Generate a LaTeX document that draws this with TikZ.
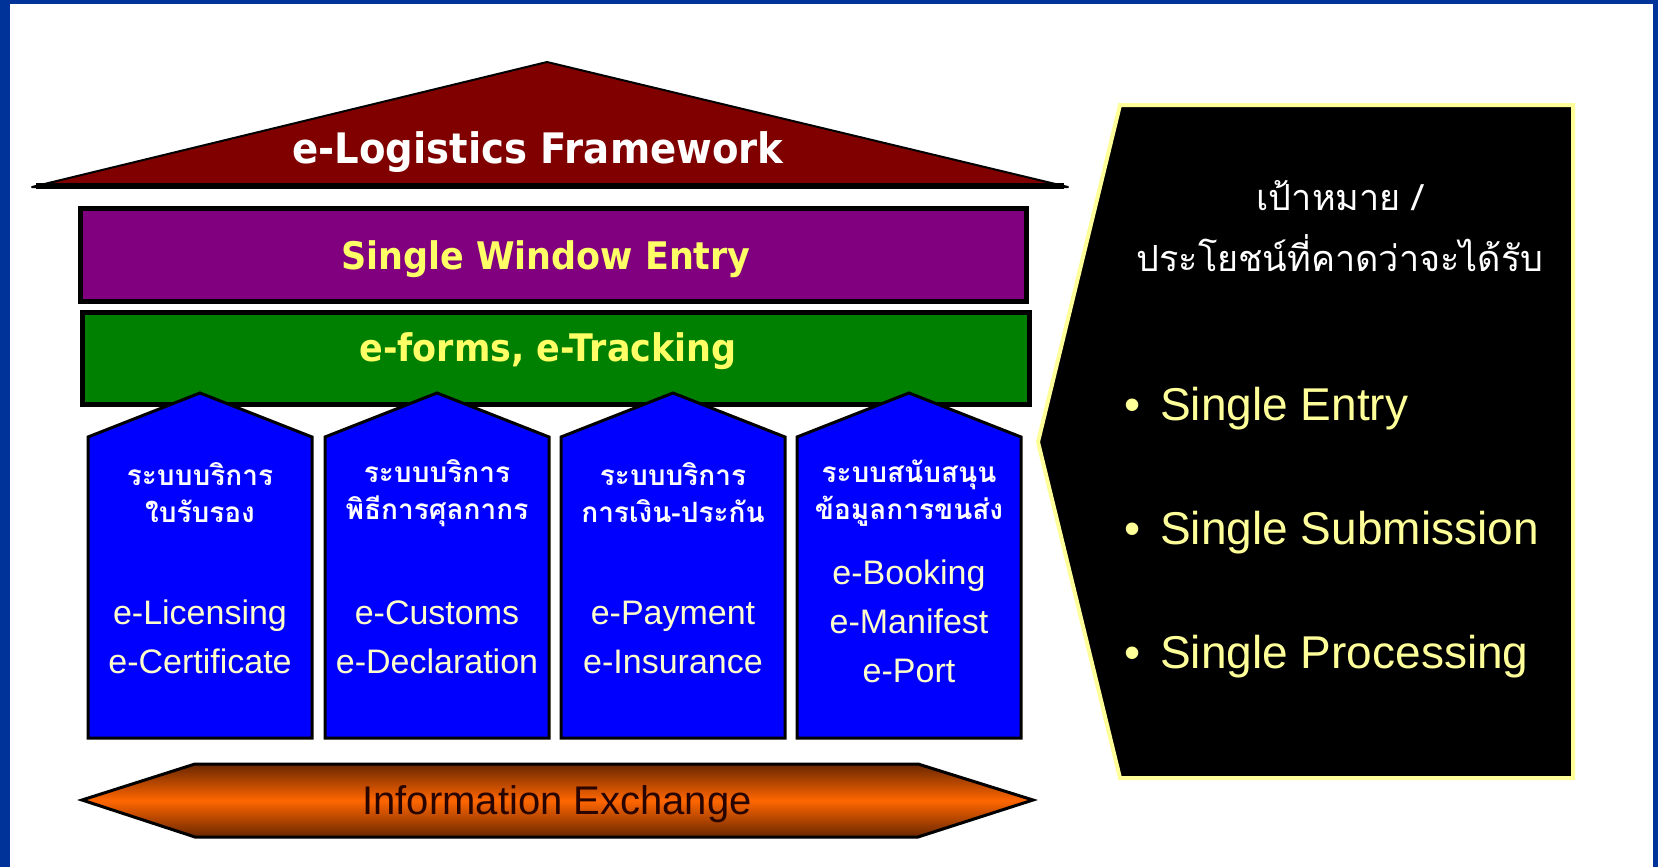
\documentclass[tikz,border=0pt]{standalone}
\usepackage{fontspec}
\setmainfont{Liberation Sans}
\newfontfamily\headfont{DejaVu Sans}
\newfontfamily\thaifont[Script=Thai]{Loma}

\definecolor{frameblue}{RGB}{0,51,153}
\definecolor{roofred}{RGB}{128,0,0}
\definecolor{swpurple}{RGB}{128,0,128}
\definecolor{trackgreen}{RGB}{0,128,0}
\definecolor{pillarblue}{RGB}{0,0,255}
\definecolor{xorange}{RGB}{255,102,0}
\definecolor{xdark}{RGB}{105,38,0}
\definecolor{exbrown}{RGB}{40,5,0}
\definecolor{swyellow}{RGB}{255,255,102}
\definecolor{paleyellow}{RGB}{255,255,204}
\definecolor{goalyellow}{RGB}{255,255,153}

\newcommand{\narrowtext}[1]{\scalebox{0.92}[1]{#1}}

\tikzset{
  band/.style={draw=black, line width=5pt},
  pillar/.style={draw=black, line width=3pt, fill=pillarblue, line join=miter},
  headtext/.style={font=\headfont\bfseries\fontsize{38}{46}\selectfont, text=swyellow, anchor=base, inner sep=0pt},
  thaitext/.style={font=\thaifont\bfseries\fontsize{28}{37}\selectfont, text=white, align=center},
  etext/.style={font=\fontsize{34}{49}\selectfont, text=paleyellow, align=center},
  goaltext/.style={font=\fontsize{46}{55}\selectfont, text=goalyellow, anchor=base west, inner sep=0pt},
}

\begin{document}
\begin{tikzpicture}[x=1pt,y=-1pt]
  \useasboundingbox (0,0) rectangle (1658,867);
  \fill[frameblue] (0,0) rectangle (1658,867);
  \fill[white] (10,4) rectangle (1653,867);

  % roof
  \draw[fill=roofred, line width=2pt, line join=round] (32,187) -- (547,62) -- (1068,187) -- cycle;
  \draw[line width=6pt] (36,186) -- (1064,186);
  \node[anchor=base, inner sep=0pt, text=white, font=\headfont\bfseries\fontsize{42}{50}\selectfont] (roof) at (538,163) {\narrowtext{e-Logistics Framework}};

  \draw[band, fill=swpurple] (80,208) rectangle (1026,301);
  \node[headtext] (window) at (546,269) {\narrowtext{Single Window Entry}};
  \draw[band, fill=trackgreen] (82,312) rectangle (1029,404);
  \node[headtext] (track) at (548,361) {\narrowtext{e-forms, e-Tracking}};

  % pillars
  \draw[pillar] (88,738) -- (88,437) -- (200,393) -- (312,437) -- (312,738) -- cycle;
  \draw[pillar] (325,738) -- (325,437) -- (437,393) -- (549,437) -- (549,738) -- cycle;
  \draw[pillar] (561,738) -- (561,437) -- (673,393) -- (785,437) -- (785,738) -- cycle;
  \draw[pillar] (797,738) -- (797,437) -- (909,393) -- (1021,437) -- (1021,738) -- cycle;

  \node[thaitext] (licthai) at (200,493) {ระบบบริการ\\ใบรับรอง};
  \node[etext] (lic) at (200,637) {e-Licensing\\e-Certificate};
  \node[thaitext] (custhai) at (437,493) {ระบบบริการ\\พิธีการศุลกากร};
  \node[etext] (cus) at (437,637) {e-Customs\\e-Declaration};
  \node[thaitext] (paythai) at (673,493) {ระบบบริการ\\การเงิน-ประกัน};
  \node[etext] (pay) at (673,637) {e-Payment\\e-Insurance};
  \node[thaitext] (portthai) at (909,493) {ระบบสนับสนุน\\ข้อมูลการขนส่ง};
  \node[etext] (port) at (909,621) {e-Booking\\e-Manifest\\e-Port};

  % information exchange
  \draw[line width=3pt, top color=xdark, bottom color=xdark, middle color=xorange]
    (82,800) -- (195,764) -- (918,764) -- (1033,800) -- (918,837) -- (195,837) -- cycle;
  \node[anchor=base, inner sep=0pt, font=\fontsize{40}{48}\selectfont, text=exbrown] (exchange) at (557,814) {Information Exchange};

  % goals
  \draw[fill=black, draw=goalyellow, line width=4pt, line join=miter]
    (1120,105) -- (1573,105) -- (1573,778) -- (1120,778) -- (1038,442) -- cycle;
  \node[font=\thaifont\fontsize{36}{61}\selectfont, text=white, align=center] (goal) at (1340,226) {เป้าหมาย /\\ประโยชน์ที่คาดว่าจะได้รับ};
  \node[goaltext] (entry) at (1124,420) {\textbullet\hspace{20pt}Single Entry};
  \node[goaltext] (submit) at (1124,544) {\textbullet\hspace{20pt}Single Submission};
  \node[goaltext] (process) at (1124,668) {\textbullet\hspace{20pt}Single Processing};
\end{tikzpicture}
\end{document}
